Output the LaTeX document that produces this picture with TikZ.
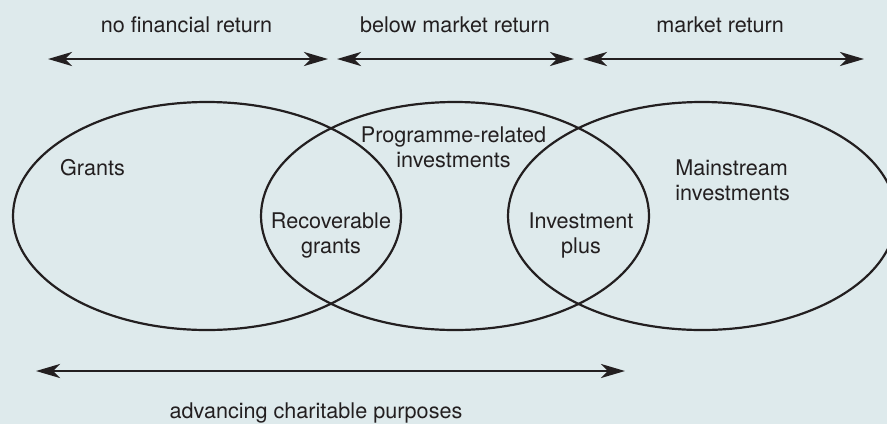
\documentclass[tikz,border=0pt]{standalone}
\usepackage{fontspec}
\setmainfont{TeX Gyre Heros}
\usepackage{xcolor}
\usepackage{tikz}
\usetikzlibrary{shapes, arrows.meta, positioning}
\definecolor{Panel}{RGB}{222,234,236}
\definecolor{Ink}{RGB}{35,31,32}

\begin{document}
\begin{tikzpicture}
  [
    x=0.5pt, y=-0.5pt,
    Set/.style={ellipse, draw=Ink, line width=1.1pt, minimum width=194pt, minimum height=114pt, inner sep=0pt},
    Label/.style={text=Ink, font=\fontsize{10.8}{12.5}\selectfont, inner sep=0pt, anchor=base},
    Span/.style={{Stealth[length=12pt,width=7pt,inset=3.5pt]}-{Stealth[length=12pt,width=7pt,inset=3.5pt]}, draw=Ink, line width=1.4pt}
  ]
  \path[fill=Panel, use as bounding box] (0,0) rectangle (887,424);
  \clip (0,0) rectangle (887,424);

  % Sets
  \node[Set] (grants) at(207, 216) {};
  \node[Set] (pri) at(455, 216) {};
  \node[Set] (mainstream) at(702, 216) {};

  % Labels
  \node[Label] (nofin) at(186.5, 32) {no financial return};
  \node[Label] (below) at(455, 32) {below market return};
  \node[Label] (market) at(720, 32) {market return};
  \node[Label] (grantsl) at(92.5, 175) {Grants};
  \node[Label, align=center] (pril) at(453.5, 167) {Programme-related\\investments};
  \node[Label, align=center] (recov) at(331, 253) {Recoverable\\grants};
  \node[Label, align=center] (plus) at(581, 253) {Investment\\plus};
  \node[Label, align=left, anchor=base west] (mainl) at(675, 200) {Mainstream\\investments};
  \node[Label] (purpose) at(316, 418) {advancing charitable purposes};

  % Ends
  \coordinate (nofinL) at(48, 59);
  \coordinate (nofinR) at(328, 59);
  \coordinate (belowL) at(337, 59);
  \coordinate (belowR) at(574, 59);
  \coordinate (marketL) at(583, 59);
  \coordinate (marketR) at(864, 59);
  \coordinate (purposeL) at(36, 371);
  \coordinate (purposeR) at(625, 371);

  % Lines
  \path [Span] (nofinL) -- (nofinR);
  \path [Span] (belowL) -- (belowR);
  \path [Span] (marketL) -- (marketR);
  \path [Span] (purposeL) -- (purposeR);

\end{tikzpicture}
\end{document}
